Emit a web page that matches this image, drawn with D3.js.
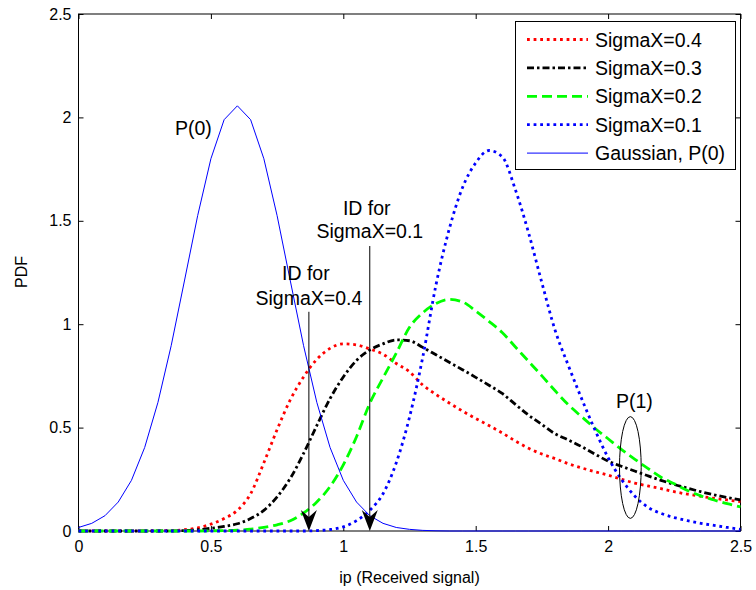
<!DOCTYPE html>
<html>
<head>
<meta charset="utf-8">
<script src="https://cdn.jsdelivr.net/npm/d3@7"></script>
<style>
  body { margin: 0; background: #fff; }
  text { font-family: "Liberation Sans", Arial, sans-serif; }
</style>
</head>
<body>
<div id="chart"></div>
<script>
// sample positions along the received-signal axis
var xs = [0,0.05,0.1,0.15,0.2,0.25,0.3,0.35,0.4,0.45,0.5,0.55,0.6,0.65,0.7,0.75,0.8,0.85,0.9,0.95,
          1,1.05,1.1,1.15,1.2,1.25,1.3,1.35,1.4,1.45,1.5,1.55,1.6,1.65,1.7,1.75,1.8,1.85,1.9,1.95,
          2,2.05,2.1,2.15,2.2,2.25,2.3,2.35,2.4,2.45,2.5];

// PDF values
var sigma04 = [0,0,0,0,0,0,0.001,0.002,0.006,0.015,0.033,0.06,0.1,0.18,0.33,0.49,
               0.635,0.745,0.83,0.883,0.905,0.9,0.88,0.855,0.81,0.77,
               0.706,0.66,0.619,0.58,0.544,0.51,0.474,0.435,0.4,0.372,
               0.35,0.325,0.305,0.287,0.27,0.25,0.232,0.218,0.205,0.19,
               0.178,0.168,0.158,0.15,0.142];
var sigma03 = [0,0,0,0,0,0,0,0,0.002,0.006,0.013,0.022,0.035,0.06,0.1,0.165,
               0.255,0.375,0.51,0.64,0.745,0.825,0.875,0.905,0.924,0.92,
               0.888,0.852,0.816,0.78,0.743,0.705,0.665,0.612,0.56,0.515,
               0.47,0.44,0.408,0.372,0.338,0.313,0.29,0.267,0.245,0.225,
               0.207,0.19,0.175,0.162,0.15];
var sigma02 = [0,0,0,0,0,0,0,0,0,0,0.001,0.002,0.004,0.009,0.018,0.03,
               0.05,0.087,0.14,0.215,0.32,0.456,0.617,0.74,0.86,0.985,
               1.055,1.1,1.12,1.108,1.064,1.014,0.96,0.89,0.82,0.75,
               0.678,0.61,0.553,0.497,0.446,0.395,0.348,0.303,0.26,0.228,
               0.196,0.17,0.15,0.132,0.117];
var sigma01 = [0,0,0,0,0,0,0,0,0,0,0,0,0,0,0,0,0,0,0.002,0.007,
               0.02,0.05,0.1,0.18,0.33,0.55,0.84,1.19,1.46,1.66,
               1.78,1.84,1.81,1.65,1.44,1.2,0.97,0.8,0.64,0.49,
               0.355,0.25,0.17,0.115,0.085,0.065,0.05,0.037,0.027,0.017,
               0.008];
var gaussP0 = [0.017,0.037,0.074,0.14,0.245,0.404,0.622,0.896,1.209,1.525,1.8,1.989,2.056,
               1.989,1.8,1.525,1.209,0.896,0.622,0.404,0.245,0.14,0.074,0.037,0.017,0.008,0.003,0.001,
               0,0,0,0,0,0,0,0,0,0,0,0,0,0,0,0,0,0,0,0,0,0,0];

var legendLabels = ['SigmaX=0.4', 'SigmaX=0.3', 'SigmaX=0.2', 'SigmaX=0.1', 'Gaussian, P(0)'];
var tickValues = [0, 0.5, 1, 1.5, 2, 2.5];
var tickLabels = ['0', '0.5', '1', '1.5', '2', '2.5'];

// annotation anchors (data units)
var arrowX = [0.87, 1.1];
var arrowTop = [1.06, 1.378];

var width = 756;
var height = 590;

var svg = d3.select('#chart').append('svg')
    .attr('width', width)
    .attr('height', height);

var xScale = d3.scaleLinear().domain([0, 2.5]).range([78.5, 740.5]);
var yScale = d3.scaleLinear().domain([0, 2.5]).range([531, 14]);

// axes with inward ticks on all four sides
function styleAxis(g) {
  g.select('.domain').remove();
  g.selectAll('line').attr('stroke', '#000');
  g.selectAll('text').attr('fill', '#000').style('font-size', '16px')
    .style('font-family', '"Liberation Sans", Arial, sans-serif');
}

svg.append('g')
    .attr('transform', 'translate(0,531)')
    .call(d3.axisBottom(xScale).tickValues(tickValues).tickSize(-5).tickPadding(10)
      .tickFormat(function (d, i) { return tickLabels[i]; }))
    .call(styleAxis);

svg.append('g')
    .attr('transform', 'translate(78.5,0)')
    .call(d3.axisLeft(yScale).tickValues(tickValues).tickSize(-5).tickPadding(7)
      .tickFormat(function (d, i) { return tickLabels[i]; }))
    .call(styleAxis);

svg.append('g')
    .attr('transform', 'translate(0,14)')
    .call(d3.axisTop(xScale).tickValues(tickValues).tickSize(-5).tickFormat(''))
    .call(styleAxis);

svg.append('g')
    .attr('transform', 'translate(740.5,0)')
    .call(d3.axisRight(yScale).tickValues(tickValues).tickSize(-5).tickFormat(''))
    .call(styleAxis);

svg.append('rect')
    .attr('x', 78.5).attr('y', 14)
    .attr('width', 662).attr('height', 517)
    .attr('fill', 'none').attr('stroke', '#000').attr('stroke-width', 1);

// axis titles
svg.append('text')
    .attr('x', 409.5).attr('y', 583)
    .style('text-anchor', 'middle').style('font-size', '16px')
    .text('ip (Received signal)');

svg.append('text')
    .attr('transform', 'translate(27,272) rotate(-90)')
    .style('text-anchor', 'middle').style('font-size', '16px')
    .text('PDF');

// series
var series = [
  { values: sigma04, color: '#ff0000', width: 2.8, dash: '2.8,3.8', curve: d3.curveMonotoneX },
  { values: sigma03, color: '#000000', width: 2.8, dash: '7,3,2.5,3', curve: d3.curveMonotoneX },
  { values: sigma02, color: '#00ff00', width: 2.8, dash: '10,5', curve: d3.curveMonotoneX },
  { values: sigma01, color: '#0000ff', width: 2.8, dash: '2.8,3.8', curve: d3.curveMonotoneX },
  { values: gaussP0, color: '#0000ff', width: 1, dash: null, curve: d3.curveLinear }
];

series.forEach(function (s) {
  var line = d3.line()
      .x(function (d, i) { return xScale(xs[i]); })
      .y(function (d) { return yScale(d); })
      .curve(s.curve);
  svg.append('path')
      .datum(s.values)
      .attr('d', line)
      .attr('fill', 'none')
      .attr('stroke', s.color)
      .attr('stroke-width', s.width)
      .attr('stroke-dasharray', s.dash);
});

// annotations
svg.append('text')
    .attr('x', xScale(0.434)).attr('y', yScale(1.915))
    .style('text-anchor', 'middle').style('font-size', '19.5px')
    .text('P(0)');

var idLabels = [['ID for', 'SigmaX=0.4'], ['ID for', 'SigmaX=0.1']];
var idTextY = [[1.214, 1.093], [1.528, 1.417]];

arrowX.forEach(function (ax, i) {
  var px = xScale(ax);
  svg.append('line')
      .attr('x1', px).attr('x2', px)
      .attr('y1', yScale(arrowTop[i])).attr('y2', yScale(0) - 4)
      .attr('stroke', '#000').attr('stroke-width', 1);
  var tip = yScale(0);
  svg.append('path')
      .attr('d', 'M' + px + ',' + tip +
                 'L' + (px - 8) + ',' + (tip - 21) +
                 'L' + px + ',' + (tip - 14) +
                 'L' + (px + 8) + ',' + (tip - 21) + 'Z')
      .attr('fill', '#000');
  idLabels[i].forEach(function (t, j) {
    svg.append('text')
        .attr('x', px - (j === 0 ? 3 : 0))
        .attr('y', yScale(idTextY[i][j]))
        .style('text-anchor', 'middle').style('font-size', '19.5px')
        .text(t);
  });
});

svg.append('ellipse')
    .attr('cx', xScale(2.084)).attr('cy', yScale(0.307))
    .attr('rx', xScale(2.084 + 0.041) - xScale(2.084))
    .attr('ry', yScale(0.307 - 0.246) - yScale(0.307))
    .attr('fill', 'none').attr('stroke', '#000').attr('stroke-width', 1);

svg.append('text')
    .attr('x', xScale(2.099)).attr('y', yScale(0.595))
    .style('text-anchor', 'middle').style('font-size', '19.5px')
    .text('P(1)');

// legend
var legend = svg.append('g');
legend.append('rect')
    .attr('x', 515.5).attr('y', 21.5)
    .attr('width', 220).attr('height', 148)
    .attr('fill', '#fff').attr('stroke', '#000').attr('stroke-width', 1);

legendLabels.forEach(function (lab, i) {
  var ly = 39.5 + i * 28.4;
  var s = series[i];
  legend.append('line')
      .attr('x1', 527).attr('x2', 588)
      .attr('y1', ly).attr('y2', ly)
      .attr('stroke', s.color)
      .attr('stroke-width', s.width)
      .attr('stroke-dasharray', s.dash);
  legend.append('text')
      .attr('x', 595).attr('y', ly)
      .attr('dy', '0.36em')
      .style('font-size', '19.5px')
      .text(lab);
});
</script>
</body>
</html>
